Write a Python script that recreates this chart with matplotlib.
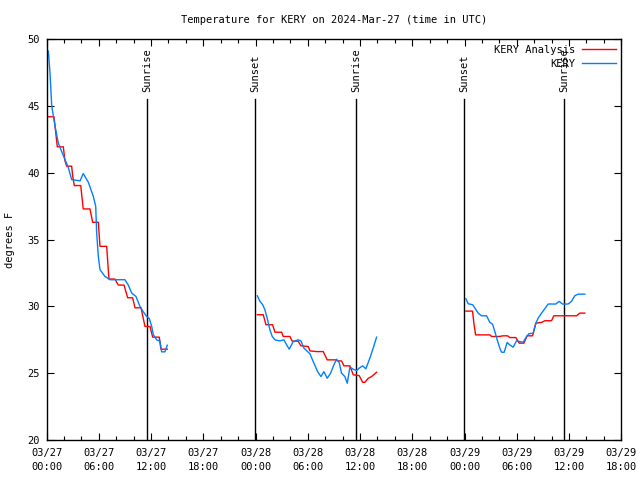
import numpy as np
import matplotlib
matplotlib.use('Agg')
import matplotlib.pyplot as plt
from matplotlib.ticker import MultipleLocator

# ── Data: hours since 03/27 00:00 UTC, temperature in F ─────────────────────
# three separate runs of data, with gaps between them
obs1_t = [0.21, 0.40, 0.60, 0.98, 1.35, 1.74, 2.12, 2.50, 2.89, 3.85, 4.22, 4.80,
          5.37, 5.65, 5.76, 5.95, 6.14, 6.71, 7.29, 9.01, 9.39, 9.78, 10.27, 10.73,
          11.11, 11.50, 11.80, 12.08, 12.26, 12.65, 13.03, 13.22, 13.60, 13.87]
obs1_T = [49.12, 47.5, 45.0, 43.5, 42.25, 41.6, 41.0, 40.4, 39.5, 39.4, 39.95, 39.3,
          38.25, 37.5, 35.5, 33.75, 32.75, 32.25, 32.0, 32.0, 31.6, 31.0, 30.75, 30.0,
          29.6, 29.25, 29.1, 28.5, 27.9, 27.5, 27.4, 26.6, 26.6, 27.1]

ana1_t = [0.21, 0.86, 1.24, 1.93, 2.12, 2.32, 2.89, 3.01, 3.19, 3.93, 4.22, 4.99,
          5.30, 5.95, 6.14, 6.91, 7.17, 7.86, 8.24, 8.90, 9.32, 9.89, 10.16, 10.85,
          11.31, 11.88, 12.19, 12.95, 13.14, 13.87]
ana1_T = [44.2, 44.2, 41.95, 41.95, 40.9, 40.5, 40.5, 39.75, 39.05, 39.05, 37.3, 37.3,
          36.3, 36.3, 34.5, 34.5, 32.05, 32.05, 31.6, 31.6, 30.65, 30.65, 29.9, 29.9,
          28.5, 28.5, 27.7, 27.7, 26.8, 26.8]

obs2_t = [24.20, 24.51, 24.82, 25.08, 25.34, 25.65, 25.92, 26.23, 26.80, 27.26, 27.57,
          27.87, 28.33, 28.90, 29.21, 29.56, 30.25, 30.62, 31.13, 31.51, 31.85, 32.23,
          32.62, 33.00, 33.31, 33.61, 33.88, 34.26, 34.53, 34.84, 35.22, 35.61, 35.90,
          36.30, 36.67, 37.13, 37.51, 37.90]
obs2_T = [30.8, 30.38, 30.13, 29.75, 29.12, 28.25, 27.75, 27.5, 27.42, 27.5, 27.13,
          26.8, 27.37, 27.5, 27.42, 26.88, 26.45, 25.88, 25.12, 24.75, 25.12, 24.62,
          25.0, 25.63, 26.05, 25.8, 25.0, 24.75, 24.25, 25.45, 25.3, 25.2, 25.38,
          25.55, 25.33, 26.13, 26.88, 27.7]

ana2_t = [24.20, 24.89, 25.20, 25.96, 26.23, 27.00, 27.18, 27.95, 28.21, 28.90, 29.21,
          30.05, 30.25, 31.01, 31.77, 32.23, 33.23, 33.42, 33.88, 34.15, 34.84, 35.22,
          35.90, 36.30, 36.56, 36.94, 37.33, 37.90]
ana2_T = [29.38, 29.38, 28.63, 28.63, 28.07, 28.07, 27.75, 27.75, 27.4, 27.4, 27.05,
          27.0, 26.67, 26.62, 26.62, 26.0, 26.0, 25.92, 25.92, 25.55, 25.55, 24.88,
          24.82, 24.32, 24.32, 24.62, 24.75, 25.07]

obs3_t = [48.15, 48.42, 48.92, 49.19, 49.56, 49.95, 50.53, 50.91, 51.22, 51.48, 51.75,
          52.05, 52.25, 52.55, 52.89, 53.20, 53.58, 53.97, 54.35, 54.73, 55.12, 55.38,
          55.88, 56.19, 56.45, 56.84, 57.22, 57.60, 58.48, 58.86, 59.25, 59.89, 60.28,
          60.66, 61.04, 61.81]
obs3_T = [30.58, 30.2, 30.13, 29.88, 29.5, 29.3, 29.3, 28.8, 28.67, 28.12, 27.5,
          26.88, 26.57, 26.57, 27.3, 27.12, 26.95, 27.42, 27.37, 27.32, 27.75, 27.95,
          28.0, 28.75, 29.12, 29.5, 29.83, 30.18, 30.18, 30.38, 30.18, 30.18, 30.38,
          30.8, 30.92, 30.92]

ana3_t = [48.15, 48.92, 49.07, 49.27, 50.91, 51.11, 51.97, 52.43, 52.94, 53.20, 53.89,
          54.27, 54.81, 55.19, 55.81, 56.19, 56.84, 57.22, 57.99, 58.25, 60.86, 61.24,
          61.81]
ana3_T = [29.65, 29.65, 28.75, 27.87, 27.87, 27.75, 27.75, 27.8, 27.8, 27.67, 27.67,
          27.25, 27.25, 27.8, 27.8, 28.75, 28.8, 28.93, 28.93, 29.3, 29.3, 29.5, 29.5]

sun_t = [11.57, 23.97, 35.56, 47.96, 59.43]
sun_labels = ['Sunrise', 'Sunset', 'Sunrise', 'Sunset', 'Sunrise']

tick_hours = [0, 6, 12, 18, 24, 30, 36, 42, 48, 54, 60, 66]
tick_labels = ['03/27\n00:00', '03/27\n06:00', '03/27\n12:00', '03/27\n18:00',
               '03/28\n00:00', '03/28\n06:00', '03/28\n12:00', '03/28\n18:00',
               '03/29\n00:00', '03/29\n06:00', '03/29\n12:00', '03/29\n18:00']

RED = '#ff0000'
BLUE = '#0080ff'
FONT = 'DejaVu Sans Mono'
FS = 7.5

plt.rcParams['font.family'] = [FONT]
plt.rcParams['font.size'] = FS

fig = plt.figure(figsize=(6.4, 4.8), dpi=100)
ax = fig.add_axes([46.5 / 640, 1 - 440 / 480, (621.3 - 46.5) / 640, (440 - 39.3) / 480])

# sunrise / sunset markers
for t, lab in zip(sun_t, sun_labels):
    ax.plot([t, t], [20, 45.55], color='black', linewidth=1.0)
    ax.text(t, 46.05, lab, rotation=90, ha='center', va='bottom', fontsize=FS)

first = True
for at, aT, ot, oT in [(ana1_t, ana1_T, obs1_t, obs1_T),
                       (ana2_t, ana2_T, obs2_t, obs2_T),
                       (ana3_t, ana3_T, obs3_t, obs3_T)]:
    ax.plot(at, aT, color=RED, linewidth=1.0, label='KERY Analysis' if first else None)
    ax.plot(ot, oT, color=BLUE, linewidth=1.0, label='KERY' if first else None)
    first = False

ax.set_xlim(0, 66)
ax.set_ylim(20, 50)
ax.set_xticks(tick_hours)
ax.set_xticklabels(tick_labels, linespacing=1.5)
ax.xaxis.set_minor_locator(MultipleLocator(2))
ax.set_yticks([20, 25, 30, 35, 40, 45, 50])
ax.tick_params(axis='both', which='both', direction='in', top=True, right=True,
               labelsize=FS, width=0.8)
ax.tick_params(axis='both', which='major', length=5)
ax.tick_params(axis='x', which='minor', length=3)
ax.tick_params(axis='x', which='major', pad=6)
ax.tick_params(axis='y', which='major', pad=5)
for s in ax.spines.values():
    s.set_linewidth(1.0)

# y label placed like gnuplot's, close to the left edge
fig.text(10 / 640, 1 - 240 / 480, 'degrees F', rotation=90, ha='center', va='center',
         fontsize=FS)
ax.set_title('Temperature for KERY on 2024-Mar-27 (time in UTC)', fontsize=FS, pad=12)

leg = ax.legend(loc='upper right', frameon=False, fontsize=FS, handlelength=3.3,
                markerfirst=False, borderaxespad=0.2, labelspacing=0.4,
                handletextpad=0.6, borderpad=0.3)
for txt in leg.get_texts():
    txt.set_ha('right')
leg.set_zorder(5)

fig.savefig('out.png', dpi=100)
